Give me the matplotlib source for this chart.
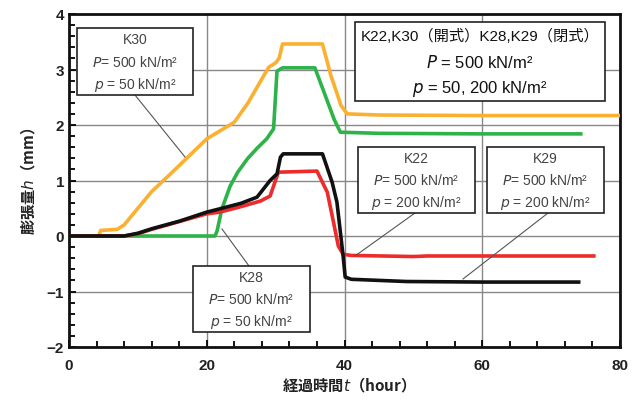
import matplotlib
matplotlib.use("Agg")
import matplotlib.pyplot as plt
from matplotlib.ticker import MultipleLocator

plt.rcParams['font.family'] = ['Liberation Sans', 'Noto Sans CJK JP', 'DejaVu Sans']
plt.rcParams['mathtext.fontset'] = 'dejavusans'

# K30 (orange)
t_k30 = [0, 4.3, 4.6, 7, 8, 10, 12, 15, 20, 24, 26, 28, 29, 30, 30.5, 31, 36.8, 38, 39.5, 40.4, 45, 60, 80]
h_k30 = [0, 0, 0.1, 0.12, 0.2, 0.5, 0.8, 1.15, 1.75, 2.05, 2.4, 2.83, 3.04, 3.12, 3.2, 3.46, 3.46, 2.9, 2.35, 2.2, 2.18, 2.17, 2.17]
# K28 (green)
t_k28 = [0, 21.2, 21.5, 22.2, 23.4, 24.5, 25.9, 27.3, 28.7, 29.7, 30.2, 31, 35.7, 37, 38.5, 39.4, 45, 60, 74.3]
h_k28 = [0, 0, 0.09, 0.49, 0.9, 1.15, 1.39, 1.58, 1.75, 1.93, 2.97, 3.03, 3.03, 2.6, 2.1, 1.87, 1.85, 1.84, 1.84]
# K29 (black)
t_k29 = [0, 8, 10, 12, 16.1, 20, 21.9, 25, 27.3, 29.2, 30.2, 30.7, 31.1, 36.8, 38.2, 38.9, 39.8, 40.1, 41, 49, 60, 74]
h_k29 = [0, 0, 0.05, 0.13, 0.27, 0.43, 0.49, 0.59, 0.70, 1.0, 1.12, 1.42, 1.48, 1.48, 0.97, 0.61, -0.36, -0.74, -0.78, -0.82, -0.83, -0.83]
# K22 (red)
t_k22 = [0, 8, 10, 12, 16, 20, 21.9, 25, 27.8, 29.2, 29.7, 30.4, 36.0, 37.5, 38.4, 39.1, 39.8, 41, 50, 52, 60, 76.2]
h_k22 = [0, 0, 0.04, 0.12, 0.26, 0.4, 0.43, 0.53, 0.63, 0.72, 0.9, 1.15, 1.17, 0.79, 0.25, -0.18, -0.33, -0.35, -0.37, -0.36, -0.36, -0.36]

x_ticks = [0, 20, 40, 60, 80]
y_ticks = [-2, -1, 0, 1, 2, 3, 4]

fig = plt.figure(figsize=(6.36, 4.02), dpi=100)
ax = fig.add_axes([69/636, 1-348/402, (620-69)/636, (348-15)/402])

ax.plot(t_k30, h_k30, color='#FBB030', lw=2.6, solid_joinstyle='round', zorder=3)
ax.plot(t_k28, h_k28, color='#2DB34A', lw=2.6, solid_joinstyle='round', zorder=3)
ax.plot(t_k22, h_k22, color='#EE2A2A', lw=2.6, solid_joinstyle='round', zorder=3)
ax.plot(t_k29, h_k29, color='#111111', lw=2.6, solid_joinstyle='round', zorder=4)

ax.set_xlim(0, 80)
ax.set_ylim(-2, 4)
ax.set_xticks(x_ticks)
ax.set_yticks(y_ticks)
ax.set_yticklabels(['\u22122', '\u22121', '0', '1', '2', '3', '4'])
ax.xaxis.set_minor_locator(MultipleLocator(4))
ax.yaxis.set_minor_locator(MultipleLocator(0.2))
ax.grid(True, which='major', color='#888888', lw=1.0, zorder=0)
ax.tick_params(which='both', direction='in', top=False, right=False, labelsize=11)
ax.tick_params(which='major', length=5, width=1.3)
ax.tick_params(which='minor', length=4, width=1.3)
ax.tick_params(axis='x', pad=8)
for lab in ax.get_xticklabels() + ax.get_yticklabels():
    lab.set_fontweight('bold')
    lab.set_color('#222222')
for s in ax.spines.values():
    s.set_linewidth(2.0)
    s.set_color('#111111')

ax.set_xlabel('経過時間$t$（hour）', fontsize=11, labelpad=2, color='#222222', fontweight='bold',
              family=['Noto Sans CJK JP', 'DejaVu Sans'])
ax.set_ylabel('膨張量$h$（mm）', fontsize=11, labelpad=6, color='#222222', fontweight='bold',
              family=['Noto Sans CJK JP', 'DejaVu Sans'])

def px(x, y):
    return ax.transData.inverted().transform(fig.transFigure.transform((x/636, 1-y/402)))

def box(x0, y0, x1, y1, lines, sizes, color='#444444'):
    (dx0, dy0) = px(x0, y1)
    (dx1, dy1) = px(x1, y0)
    ax.add_patch(plt.Rectangle((dx0, dy0), dx1-dx0, dy1-dy0, facecolor='white',
                               edgecolor='#222222', lw=1.2, zorder=6))
    n = len(lines)
    for i, (l, fs) in enumerate(zip(lines, sizes)):
        yy = y0 + (y1-y0) * (i + 0.5) / n
        cx, cy = px((x0+x1)/2, yy)
        ax.text(cx, cy, l, ha='center', va='center', fontsize=fs, color=color, zorder=7)

def leader(x0, y0, x1, y1):
    a = px(x0, y0); b = px(x1, y1)
    ax.plot([a[0], b[0]], [a[1], b[1]], color='#555555', lw=0.8, zorder=5)

fig.canvas.draw()

leader(135, 96, 185, 158)
leader(249, 267, 222, 230)
leader(415, 214, 355, 257)
leader(548, 214, 463, 280)

small = [10, 10, 10]
box(77, 29, 193, 96, ['K30', '$P$= 500 kN/m²', '$p$ = 50 kN/m²'], small)
box(193, 267, 310, 333, ['K28', '$P$= 500 kN/m²', '$p$ = 50 kN/m²'], small)
box(358, 148, 475, 214, ['K22', '$P$= 500 kN/m²', '$p$ = 200 kN/m²'], small)
box(487, 148, 604, 214, ['K29', '$P$= 500 kN/m²', '$p$ = 200 kN/m²'], small)
box(355, 23, 605, 102, ['K22,K30（開式）K28,K29（閉式）', '$P$ = 500 kN/m²', '$p$ = 50, 200 kN/m²'],
    [11, 12, 12], color='#111111')

fig.savefig('out.png', dpi=100)
